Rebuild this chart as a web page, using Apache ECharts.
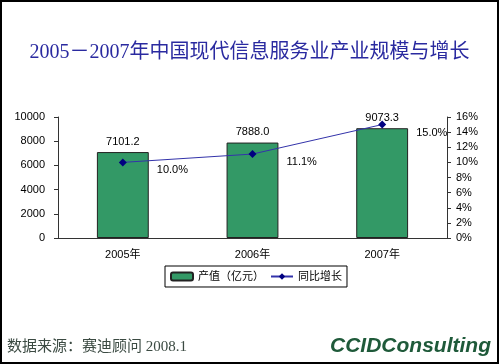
<!DOCTYPE html>
<html><head><meta charset="utf-8">
<script src="https://cdn.jsdelivr.net/npm/echarts@6/dist/echarts.min.js"></script>
<style>html,body{margin:0;padding:0;background:#fff}#c{width:499px;height:364px}</style>
</head><body><div id="c"></div>
<script>
const categories = ['2005年', '2006年', '2007年'];
const outputValues = [7101.2, 7888.0, 9073.3];
const growthRates = [10.0, 11.1, 15.0];
const leftTicks = [0, 10000, 2000];
const rightTicks = [0, 16, 2];

const chart = echarts.init(document.getElementById('c'));
const sans = "'Liberation Sans', Arial, 'Noto Sans CJK SC', sans-serif";
chart.setOption({
  animation: false,
  backgroundColor: '#fff',
  title: {
    text: '2005－2007年中国现代信息服务业产业规模与增长',
    left: 'center', top: 38,
    textStyle: { fontFamily: "'Liberation Serif', 'Noto Sans CJK SC', serif", fontSize: 20, fontWeight: 'normal', color: '#2a2aa0' }
  },
  grid: { left: 58, right: 52, top: 117, bottom: 126 },
  legend: {
    left: 165, top: 266,
    borderColor: '#000', borderWidth: 1, padding: [5, 5],
    itemWidth: 22, itemHeight: 8, itemGap: 6,
    textStyle: { fontFamily: sans, fontSize: 11, color: '#000' },
    data: ['产值（亿元）', '同比增长']
  },
  xAxis: {
    type: 'category', data: categories,
    axisLine: { lineStyle: { color: '#333' } },
    axisTick: { length: 4, lineStyle: { color: '#333' } },
    axisLabel: { fontFamily: sans, fontSize: 11, color: '#000', margin: 11 }
  },
  yAxis: [{
    type: 'value', min: leftTicks[0], max: leftTicks[1], interval: leftTicks[2],
    axisLine: { show: true, lineStyle: { color: '#333' } },
    axisTick: { show: true, length: 4, lineStyle: { color: '#333' } },
    splitLine: { show: false },
    axisLabel: { fontFamily: sans, fontSize: 11, color: '#000', margin: 13, formatter: v => String(v) }
  }, {
    type: 'value', min: rightTicks[0], max: rightTicks[1], interval: rightTicks[2],
    position: 'right',
    axisLine: { show: true, lineStyle: { color: '#333' } },
    axisTick: { show: true, length: 4, lineStyle: { color: '#333' } },
    splitLine: { show: false },
    axisLabel: { fontFamily: sans, fontSize: 11, color: '#000', margin: 9, formatter: '{value}%' }
  }],
  series: [{
    name: '产值（亿元）', type: 'bar', data: outputValues, barWidth: '40%',
    itemStyle: { color: '#339966', borderColor: '#222', borderWidth: 1 },
    label: { show: true, position: 'top', distance: 5, fontFamily: sans, fontSize: 11, color: '#000',
      formatter: p => p.value.toFixed(1) }
  }, {
    name: '同比增长', type: 'line', yAxisIndex: 1, data: growthRates,
    symbol: 'diamond', symbolSize: 8,
    lineStyle: { color: '#3333aa', width: 1 },
    itemStyle: { color: '#000080' },
    label: { show: true, position: 'right', distance: 5, offset: [25, 8], fontFamily: sans, fontSize: 11, color: '#000',
      formatter: p => p.value.toFixed(1) + '%' }
  }],
  graphic: [
    { type: 'rect', shape: { x: 1, y: 1, width: 497, height: 362 }, style: { fill: 'none', stroke: '#000', lineWidth: 2 }, z: 100 },
    { type: 'text', left: 7, top: 340, style: { text: '数据来源：赛迪顾问 2008.1', font: "15px 'Liberation Serif', 'Noto Sans CJK SC', serif", fill: '#3b4a42' } },
    { type: 'text', left: 330, top: 336, style: { text: 'CCIDConsulting', font: "italic bold 21px 'Liberation Sans', Arial, sans-serif", fill: '#1f5a3a' } }
  ]
});
</script></body></html>
